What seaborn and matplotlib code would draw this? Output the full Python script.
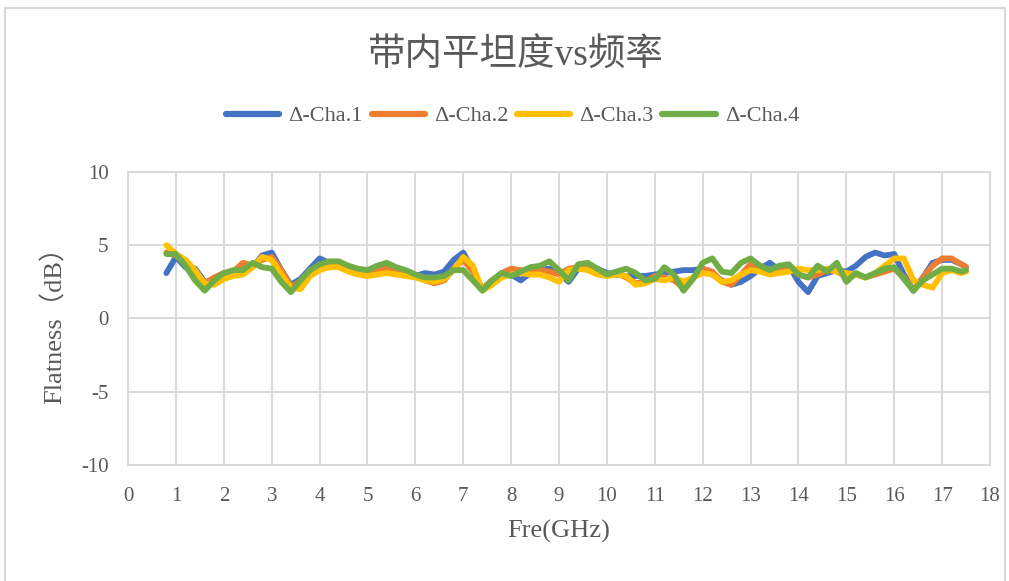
import numpy as np
import pandas as pd
import matplotlib
matplotlib.use('Agg')
import matplotlib.pyplot as plt
import seaborn as sns
from matplotlib.ticker import MultipleLocator
from matplotlib.patches import Rectangle

freq = [0.8, 1.0, 1.2, 1.4, 1.6, 1.8, 2.0, 2.2, 2.4, 2.6, 2.8, 3.0, 3.2, 3.4, 3.6, 3.8,
        4.0, 4.2, 4.4, 4.6, 4.8, 5.0, 5.2, 5.4, 5.6, 5.8, 6.0, 6.2, 6.4, 6.6, 6.8, 7.0,
        7.2, 7.4, 7.6, 7.8, 8.0, 8.2, 8.4, 8.6, 8.8, 9.0, 9.2, 9.4, 9.6, 9.8, 10.0, 10.2,
        10.4, 10.6, 10.8, 11.0, 11.2, 11.4, 11.6, 11.8, 12.0, 12.2, 12.4, 12.6, 12.8, 13.0,
        13.2, 13.4, 13.6, 13.8, 14.0, 14.2, 14.4, 14.6, 14.8, 15.0, 15.2, 15.4, 15.6, 15.8,
        16.0, 16.2, 16.4, 16.6, 16.8, 17.0, 17.2, 17.4, 17.5]

cha1 = [3.1, 4.2, 3.5, 3.4, 2.5, 2.6, 3.0, 3.2, 3.3, 3.5, 4.3, 4.5, 3.3, 2.3, 2.7, 3.4,
        4.1, 3.8, 3.8, 3.5, 3.3, 3.2, 3.5, 3.6, 3.3, 3.1, 2.9, 3.1, 3.0, 3.2, 4.0, 4.5,
        3.3, 2.0, 2.6, 3.0, 3.0, 2.6, 3.1, 3.3, 3.4, 3.1, 2.5, 3.4, 3.6, 3.4, 3.1, 3.0,
        2.9, 2.9, 2.9, 3.0, 3.1, 3.2, 3.3, 3.3, 3.4, 3.0, 2.6, 2.3, 2.5, 2.9,
        3.4, 3.8, 3.3, 3.6, 2.5, 1.8, 2.9, 3.1, 3.3, 3.2, 3.6, 4.2, 4.5, 4.3,
        4.4, 3.0, 1.9, 2.8, 3.8, 4.0, 4.0, 3.7, 3.5]

cha2 = [4.5, 4.3, 3.8, 3.1, 2.4, 2.8, 3.1, 3.2, 3.8, 3.6, 4.0, 4.2, 3.3, 2.2, 2.5, 3.2,
        3.6, 3.7, 3.7, 3.4, 3.2, 3.1, 3.3, 3.4, 3.2, 3.0, 2.9, 2.6, 2.4, 2.6, 3.4, 4.0,
        3.2, 2.0, 2.6, 3.1, 3.4, 3.3, 3.2, 3.3, 3.2, 3.0, 3.4, 3.5, 3.5, 3.2, 3.0, 3.1,
        2.8, 2.4, 2.5, 2.9, 2.8, 2.6, 2.1, 2.8, 3.4, 3.2, 2.5, 2.3, 3.0, 3.7,
        3.4, 3.1, 3.3, 3.5, 3.0, 2.8, 3.0, 3.3, 3.2, 2.9, 3.0, 2.8, 3.0, 3.2,
        3.4, 2.8, 1.9, 2.8, 3.6, 4.1, 4.1, 3.7, 3.5]

cha3 = [5.0, 4.4, 4.0, 3.3, 2.4, 2.3, 2.7, 2.9, 3.0, 3.5, 4.2, 4.0, 3.0, 2.1, 2.0, 2.9,
        3.3, 3.5, 3.5, 3.2, 3.0, 2.9, 3.0, 3.1, 3.0, 2.9, 2.8, 2.6, 2.5, 2.7, 3.3, 4.2,
        3.6, 1.9, 2.3, 2.8, 3.0, 3.1, 3.0, 3.0, 2.8, 2.5, 3.3, 3.4, 3.3, 3.0, 2.9, 3.0,
        2.9, 2.3, 2.4, 2.7, 2.6, 2.8, 2.5, 2.8, 3.1, 3.0, 2.5, 2.6, 3.0, 3.3,
        3.2, 3.0, 3.1, 3.2, 3.4, 3.3, 3.3, 3.4, 3.2, 3.1, 3.0, 2.8, 3.1, 3.6,
        4.1, 4.1, 2.6, 2.3, 2.1, 3.1, 3.3, 3.1, 3.2]

cha4 = [4.4, 4.4, 3.6, 2.6, 1.9, 2.6, 3.1, 3.3, 3.3, 3.8, 3.5, 3.4, 2.5, 1.8, 2.6, 3.3,
        3.7, 3.9, 3.9, 3.6, 3.4, 3.3, 3.6, 3.8, 3.5, 3.3, 3.0, 2.8, 2.8, 2.9, 3.3, 3.3,
        2.6, 1.9, 2.6, 3.1, 2.9, 3.2, 3.5, 3.6, 3.9, 3.3, 2.6, 3.7, 3.8, 3.4, 3.0, 3.2,
        3.4, 3.1, 2.6, 2.7, 3.5, 3.0, 1.9, 2.7, 3.8, 4.1, 3.2, 3.1, 3.8, 4.1,
        3.6, 3.3, 3.6, 3.7, 3.0, 2.8, 3.6, 3.2, 3.8, 2.5, 3.1, 2.8, 3.1, 3.4,
        3.5, 2.7, 1.9, 2.6, 3.0, 3.4, 3.4, 3.2, 3.3]

labels = ['Δ-Cha.1', 'Δ-Cha.2', 'Δ-Cha.3', 'Δ-Cha.4']
colors = ['#4472C4', '#ED7D31', '#FFC000', '#70AD47']

df = pd.concat([
    pd.DataFrame({'freq': freq, 'flat': vals, 'ch': lab})
    for vals, lab in zip([cha1, cha2, cha3, cha4], labels)
])

sns.set_style('white')
plt.rcParams['font.family'] = ['Liberation Serif', 'Noto Sans CJK SC']
plt.rcParams['axes.unicode_minus'] = False
txt = '#595959'
grid = '#D9D9D9'

fig = plt.figure(figsize=(10.09, 5.81), dpi=100)
ax = fig.add_axes([0.1269, 0.1997, 0.8543, 0.5043])

sns.lineplot(data=df, x='freq', y='flat', hue='ch', palette=colors, sort=False,
             linewidth=4.2, ax=ax, legend=True)
for ln in ax.get_lines():
    ln.set_solid_joinstyle('round')
    ln.set_solid_capstyle('round')

ax.set_xlim(0, 18)
ax.set_ylim(-10, 10)
ax.xaxis.set_major_locator(MultipleLocator(1))
ax.xaxis.set_minor_locator(MultipleLocator(0.5))
ax.yaxis.set_major_locator(MultipleLocator(5))
ax.yaxis.set_minor_locator(MultipleLocator(2.5))
ax.grid(True, which='major', color=grid, linewidth=1.4)
ax.set_axisbelow(True)
for s in ax.spines.values():
    s.set_color(grid)
    s.set_linewidth(1.4)
ax.tick_params(which='major', length=0, labelsize=15, labelcolor=txt)
ax.tick_params(axis='x', which='major', pad=16)
ax.tick_params(axis='y', which='major', pad=14)
ax.tick_params(which='minor', direction='in', length=5, color=grid, width=1.4)

ax.set_xlabel('Fre(GHz)', fontsize=19, color=txt, labelpad=10)
ax.set_ylabel('Flatness（dB）', fontsize=19, color=txt, labelpad=10)

fig.text(0.51, 0.905, '带内平坦度vs频率', ha='center', va='center', fontsize=27, color=txt)

ax.legend(loc='center', bbox_to_anchor=(0.508, 0.80), bbox_transform=fig.transFigure,
          ncol=4, frameon=False, fontsize=16, handlelength=2.4, columnspacing=0.4,
          handletextpad=0.4, labelcolor=txt)
for h in ax.get_legend().get_lines():
    h.set_linewidth(4.5)

fig.patches.append(Rectangle((5 / 1009, -0.1), 1000 / 1009, 1.1 - 8 / 581,
                             transform=fig.transFigure, fill=False,
                             edgecolor=grid, linewidth=1.5))

fig.savefig('out.png', dpi=100)
